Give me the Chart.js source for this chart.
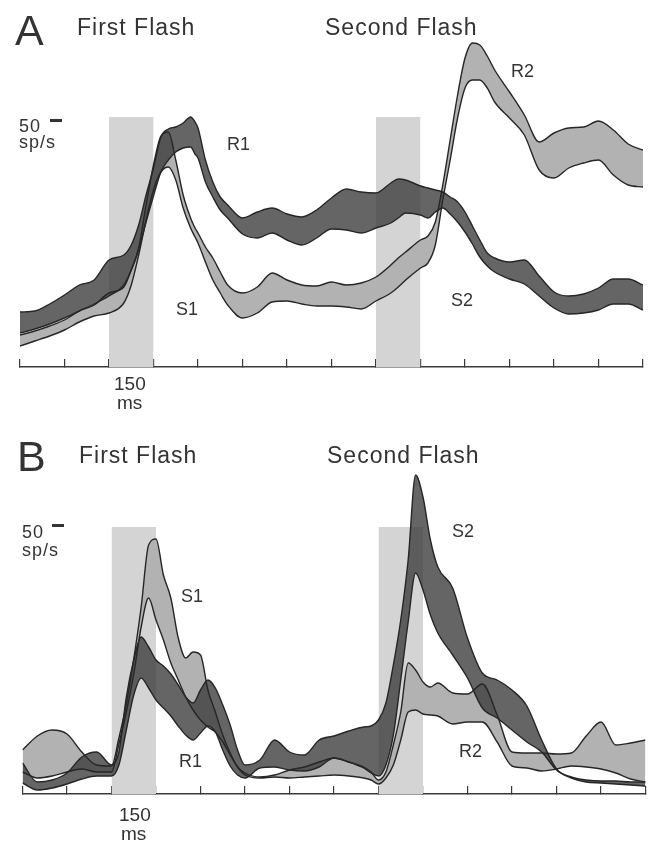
<!DOCTYPE html>
<html>
<head>
<meta charset="utf-8">
<script src="https://cdn.jsdelivr.net/npm/chart.js@4.4.1/dist/chart.umd.min.js"></script>
<style>
  html, body { margin: 0; padding: 0; background: #fff; }
  #page { position: relative; width: 651px; height: 843px; overflow: hidden; font-family: "Liberation Sans", Arial, sans-serif; color: #333; }
  canvas { position: absolute; left: 0; }
  .t { position: absolute; line-height: 1; white-space: nowrap; }
  .dash { position: absolute; background: #333; }
</style>
</head>
<body>
<div id="page">
  <canvas id="chartA" width="651" height="380" style="top:0px"></canvas>
  <canvas id="chartB" width="651" height="390" style="top:420px"></canvas>

  <div class="t" style="left:15px;top:9px;font-size:43px">A</div>
  <div class="t" style="left:77px;top:16px;font-size:23px;letter-spacing:1px">First Flash</div>
  <div class="t" style="left:325px;top:16px;font-size:23px;letter-spacing:1px">Second Flash</div>
  <div class="t" style="left:19px;top:117px;font-size:18px;letter-spacing:1px">50</div>
  <div class="dash" style="left:50px;top:119px;width:12px;height:3px"></div>
  <div class="t" style="left:19px;top:133px;font-size:18px;letter-spacing:1px">sp/s</div>
  <div class="t" style="left:227px;top:135px;font-size:18px">R1</div>
  <div class="t" style="left:176px;top:300px;font-size:18px">S1</div>
  <div class="t" style="left:511px;top:62px;font-size:18px">R2</div>
  <div class="t" style="left:451px;top:291px;font-size:18px">S2</div>
  <div class="t" style="left:114px;top:374px;font-size:19px">150</div>
  <div class="t" style="left:117px;top:393px;font-size:19px">ms</div>

  <div class="t" style="left:17px;top:435px;font-size:43px">B</div>
  <div class="t" style="left:79px;top:444px;font-size:23px;letter-spacing:1px">First Flash</div>
  <div class="t" style="left:327px;top:444px;font-size:23px;letter-spacing:1px">Second Flash</div>
  <div class="t" style="left:22px;top:523px;font-size:18px;letter-spacing:1px">50</div>
  <div class="dash" style="left:52px;top:524px;width:12px;height:3px"></div>
  <div class="t" style="left:22px;top:541px;font-size:18px;letter-spacing:1px">sp/s</div>
  <div class="t" style="left:181px;top:587px;font-size:18px">S1</div>
  <div class="t" style="left:179px;top:752px;font-size:18px">R1</div>
  <div class="t" style="left:452px;top:522px;font-size:18px">S2</div>
  <div class="t" style="left:459px;top:742px;font-size:18px">R2</div>
  <div class="t" style="left:119px;top:805px;font-size:19px">150</div>
  <div class="t" style="left:121px;top:824px;font-size:19px">ms</div>
</div>

<script>
// x axis: time in ms, one tick every 150 ms
const tickTimes = [0, 150, 300, 450, 600, 750, 900, 1050, 1200, 1350, 1500, 1650, 1800, 1950, 2100];
const flashTimes = [[300, 450], [1200, 1350]];
const flashTopA = 250;
const flashTopB = 267;

// Panel A: spike rate bands (upper / lower edge)
const aTime = [0, 50, 100, 150, 200, 250, 300, 350, 375, 400, 425, 450, 475, 500, 525, 550, 575, 590, 600, 625, 650, 675, 700,
  750, 800, 850, 900, 950, 1000, 1050, 1100, 1150, 1200, 1250, 1275, 1300, 1350, 1375, 1400, 1425, 1450, 1475, 1500, 1525,
  1550, 1575, 1600, 1650, 1700, 1750, 1800, 1850, 1900, 1950, 2000, 2050, 2100];
// dark band: R1 then S2
const aDarkTop = [55, 56, 63, 72, 82, 87, 107, 112, 122, 142, 172, 199, 230, 238, 240, 244, 250, 245, 239, 207, 185, 170, 162,
  149, 155, 159, 153, 150, 157, 169, 178, 175, 174, 184, 188, 187, 181, 179, 177, 175, 170, 165, 155, 141,
  127, 114, 109, 105, 107, 91, 75, 71, 73, 79, 88, 88, 82];
const aDarkLow = [34, 38, 43, 49, 56, 63, 71, 82, 97, 117, 145, 171, 195, 207, 215, 219, 220, 213, 209, 185, 170, 157, 149,
  133, 129, 134, 127, 122, 129, 138, 137, 134, 139, 144, 149, 154, 152, 149, 155, 159, 153, 145, 135, 123,
  110, 101, 95, 88, 83, 71, 59, 53, 54, 57, 63, 63, 57];
// light band: S1 then R2
const aLightTop = [32, 36, 41, 47, 56, 62, 74, 80, 97, 119, 162, 202, 231, 235, 207, 172, 149, 139, 134, 120, 109, 95, 82,
  74, 80, 94, 87, 82, 81, 85, 82, 84, 90, 102, 109, 115, 127, 131, 145, 182, 227, 272, 309, 324,
  322, 311, 297, 275, 252, 225, 234, 239, 240, 246, 237, 223, 217];
const aLightLow = [21, 26, 31, 37, 45, 51, 54, 64, 82, 112, 147, 177, 195, 200, 187, 159, 139, 130, 124, 105, 87, 74, 62,
  49, 54, 65, 66, 63, 61, 61, 60, 58, 66, 74, 80, 87, 99, 104, 122, 167, 207, 249, 279, 287,
  287, 279, 265, 249, 232, 197, 189, 199, 204, 207, 192, 182, 180];

// Panel B
const bTime = [0, 50, 100, 150, 200, 250, 300, 325, 350, 375, 400, 425, 450, 475, 500, 525, 550, 575, 600, 625, 650, 675, 700,
  725, 750, 800, 850, 900, 950, 1000, 1050, 1100, 1150, 1175, 1200, 1225, 1250, 1275, 1300, 1325, 1350, 1375, 1400,
  1450, 1500, 1550, 1600, 1650, 1700, 1750, 1800, 1850, 1900, 1950, 2000, 2050, 2100];
// dark band: R1 then S2
const bDarkTop = [31, 12, 14, 21, 37, 42, 29, 42, 97, 134, 157, 147, 134, 128, 120, 109, 97, 91, 104, 114, 106, 89, 69,
  44, 29, 34, 54, 42, 39, 54, 58, 63, 67, 68, 74, 91, 129, 174, 234, 319, 297, 254, 227,
  206, 156, 121, 114, 104, 88, 54, 25, 17, 14, 13, 13, 12, 12];
const bDarkLow = [11, 4, 6, 10, 15, 18, 18, 29, 64, 99, 116, 106, 94, 86, 78, 68, 59, 54, 61, 68, 62, 44, 28,
  19, 16, 26, 27, 24, 23, 27, 36, 32, 26, 21, 18, 29, 59, 114, 172, 221, 204, 179, 161,
  139, 116, 86, 76, 64, 52, 42, 24, 16, 12, 11, 10, 9, 8];
// light band: S1 then R2
const bLightTop = [44, 58, 64, 60, 42, 29, 28, 56, 90, 135, 187, 249, 255, 219, 196, 156, 136, 142, 139, 104, 82, 59, 41,
  27, 21, 17, 19, 24, 27, 32, 36, 32, 27, 22, 14, 22, 49, 82, 131, 124, 112, 107, 111,
  101, 100, 110, 79, 42, 41, 41, 40, 41, 58, 72, 49, 51, 54];
const bLightLow = [22, 16, 18, 22, 25, 22, 22, 50, 82, 120, 167, 196, 174, 154, 131, 114, 97, 84, 74, 67, 62, 52, 39,
  27, 19, 16, 17, 16, 17, 18, 19, 18, 16, 14, 10, 16, 29, 54, 82, 84, 80, 79, 78,
  70, 72, 72, 52, 28, 26, 23, 25, 28, 27, 25, 21, 15, 12];

const DARK_FILL = 'rgba(58, 58, 58, 0.78)';
const LIGHT_FILL = '#b2b2b2';
const FLASH_FILL = '#d4d4d4';
const EDGE = '#262626';

const toPoints = (times, vals) => times.map((t, i) => ({ x: t, y: vals[i] }));

const edge = (times, vals, fill, bg) => ({
  data: toPoints(times, vals),
  borderColor: EDGE,
  borderWidth: 1.4,
  backgroundColor: bg || 'transparent',
  fill: fill,
  pointRadius: 0,
  cubicInterpolationMode: 'monotone'
});

const flash = (range, top) => ({
  data: [{ x: range[0], y: top }, { x: range[1], y: top }],
  borderWidth: 0,
  borderColor: 'transparent',
  backgroundColor: FLASH_FILL,
  fill: 'origin',
  pointRadius: 0,
  tension: 0
});

const makeOptions = (padding) => ({
  responsive: false,
  animation: false,
  events: [],
  layout: { padding },
  plugins: {
    legend: { display: false },
    tooltip: { enabled: false },
    filler: { drawTime: 'beforeDatasetsDraw' }
  },
  scales: {
    x: {
      type: 'linear',
      min: 0,
      max: 2100,
      afterBuildTicks: (s) => { s.ticks = tickTimes.map(v => ({ value: v })); },
      afterFit: (s) => { s.height = 0; },
      ticks: { display: false },
      grid: { drawOnChartArea: false, drawTicks: true, tickLength: -8, color: '#3a3a3a', lineWidth: 1.2 },
      border: { display: true, color: '#3a3a3a', width: 1.5 }
    },
    y: { display: false, min: 0, max: 340 }
  }
});

// dataset 0 is painted last (on top)
new Chart(document.getElementById('chartA'), {
  type: 'line',
  data: {
    datasets: [
      edge(aTime, aDarkTop, '+1', DARK_FILL),
      edge(aTime, aDarkLow, false),
      edge(aTime, aLightTop, '+1', LIGHT_FILL),
      edge(aTime, aLightLow, false),
      flash(flashTimes[0], flashTopA),
      flash(flashTimes[1], flashTopA)
    ]
  },
  options: makeOptions({ left: 20, right: 8, top: 27, bottom: 13 })
});

new Chart(document.getElementById('chartB'), {
  type: 'line',
  data: {
    datasets: [
      edge(bTime, bDarkTop, '+1', DARK_FILL),
      edge(bTime, bDarkLow, false),
      edge(bTime, bLightTop, '+1', LIGHT_FILL),
      edge(bTime, bLightLow, false),
      flash(flashTimes[0], flashTopB),
      flash(flashTimes[1], flashTopB)
    ]
  },
  options: makeOptions({ left: 22.5, right: 5.5, top: 34, bottom: 16 })
});
</script>
</body>
</html>
